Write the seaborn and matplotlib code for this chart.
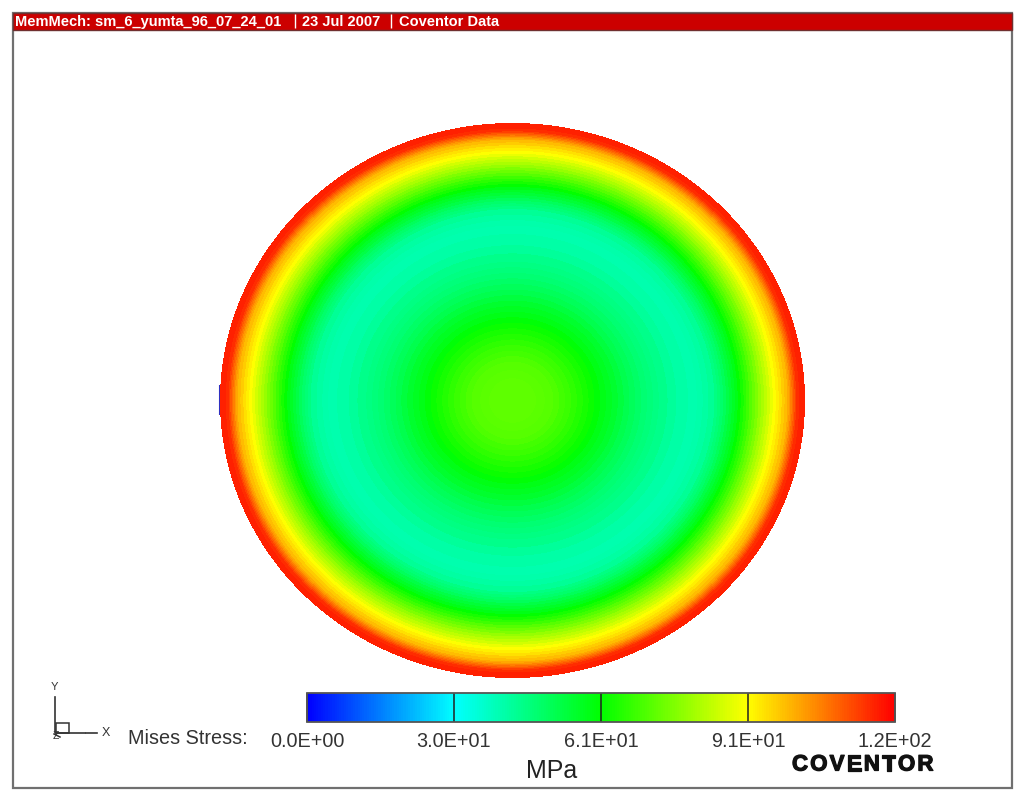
import numpy as np
import matplotlib
matplotlib.use("Agg")
import matplotlib.pyplot as plt
import matplotlib.patheffects as pe
from matplotlib.colors import LinearSegmentedColormap
from matplotlib.patches import Rectangle
import seaborn as sns

# radial stress profile (fraction of radius -> MPa)
ring_radius = [0.00, 0.04, 0.08, 0.11, 0.14, 0.16, 0.18, 0.20, 0.22, 0.24, 0.26, 0.28,
               0.30, 0.32, 0.34, 0.36, 0.38, 0.40, 0.42, 0.44, 0.46, 0.48, 0.50, 0.53,
               0.56, 0.60, 0.63, 0.65, 0.67, 0.69, 0.70, 0.71, 0.72, 0.73, 0.74, 0.75,
               0.76, 0.77, 0.78, 0.79, 0.80, 0.81, 0.82, 0.83, 0.84, 0.85, 0.86, 0.87,
               0.88, 0.89, 0.90, 0.91, 0.92, 0.93, 0.94, 0.945, 0.95, 0.955, 0.96, 0.965, 0.97, 0.98, 0.99]
ring_stress = [71.5, 71.5, 71.0, 70.5, 69.5, 68.5, 67.5, 66.0, 64.5, 63.0, 61.5, 60.0,
               58.0, 56.5, 55.0, 53.0, 51.5, 50.0, 48.5, 47.0, 46.0, 45.0, 44.0, 42.5,
               41.0, 40.0, 40.5, 41.5, 43.0, 45.0, 46.5, 48.0, 50.0, 52.0, 54.0, 56.0,
               58.0, 60.5, 63.0, 65.5, 68.0, 70.5, 73.0, 75.5, 78.0, 80.5, 83.0, 85.5,
               88.0, 90.5, 92.5, 94.5, 96.5, 98.5, 101.0, 103.0, 105.5, 108.0, 110.5, 113.0, 115.5, 117.0, 117.0]

stress_ticks = [0.0, 30.25, 60.5, 90.75, 121.0]
tick_labels = ["0.0E+00", "3.0E+01", "6.1E+01", "9.1E+01", "1.2E+02"]
header_parts = ["MemMech: sm_6_yumta_96_07_24_01", "23 Jul 2007", "Coventor Data"]

W, H = 1024, 801
plt.rcParams["font.family"] = ["Liberation Sans", "DejaVu Sans"]
rainbow = LinearSegmentedColormap.from_list(
    "stress", ["#0000ff", "#00ffff", "#00ff00", "#ffff00", "#ff0000"], N=256
)


def px_axes(fig, left, top, right, bottom, **kw):
    return fig.add_axes([left / W, 1 - bottom / H, (right - left) / W, (bottom - top) / H], **kw)


fig = plt.figure(figsize=(W / 100, H / 100), dpi=100, facecolor="white")

# overlay in pixel coordinates for frame, header and triad
bg = fig.add_axes([0, 0, 1, 1])
bg.set_xlim(0, W)
bg.set_ylim(H, 0)
bg.axis("off")
bg.add_patch(Rectangle((12.5, 12.5), 999, 775, fc="white", ec="#707070", lw=1.6))
bg.add_patch(Rectangle((12.5, 12.5), 999, 17.5, fc="#cc0000", ec="#703030", lw=1.0))
for x, part in zip([15, 302, 399], header_parts):
    bg.text(x, 22, part, color="white", fontsize=10.5, fontweight="bold", va="center", ha="left")
bg.vlines([294.5, 390.5], 14, 28, color="white", lw=1)

# disc: each pixel takes the stress of the ring it falls in
cx, cy, rx, ry = 292.5, 277.5, 292.5, 277.5
yy, xx = np.mgrid[0:555, 0:585]
rr = np.hypot((xx + 0.5 - cx) / rx, (yy + 0.5 - cy) / ry)
idx = np.searchsorted(ring_radius, rr, side="right") - 1
field = np.array(ring_stress)[idx]

ax = px_axes(fig, 220, 123, 805, 678)
cax = px_axes(fig, 307, 693, 895, 722)
sns.heatmap(
    field, mask=rr > 1.0, cmap=rainbow, vmin=0, vmax=121, ax=ax, cbar_ax=cax,
    cbar_kws={"orientation": "horizontal", "ticks": stress_ticks},
    xticklabels=False, yticklabels=False,
)
ax.axis("off")

cax.set_xticklabels(tick_labels)
cax.tick_params(axis="x", direction="in", length=21, width=1.1, color="#222222",
                labelsize=14.3, labelcolor="#333333", pad=7)
cbar = ax.collections[0].colorbar
cbar.outline.set_visible(True)
cbar.outline.set_edgecolor("#555555")
cbar.outline.set_linewidth(1.3)

# stray mesh specks on the disc rim
bg.vlines(219.5, 385, 415, color="#3030c0", lw=1.5)
bg.plot([794], [405], marker="s", ms=1.5, color="#555555")

# coordinate triad
bg.plot([55, 55, 85], [697, 733, 733], color="#333333", lw=1.2)
bg.plot([86, 97], [732.5, 732.5], color="#333333", lw=1.2)
bg.add_patch(Rectangle((56, 723), 13, 10, fc="none", ec="#333333", lw=1.1))
bg.plot([54, 60], [734, 737], color="#333333", lw=1.1)
bg.text(54, 687, "Y", fontsize=8, color="#333333", ha="center", va="center")
bg.text(105.5, 733, "X", fontsize=9, color="#333333", ha="center", va="center")
bg.text(56, 736, "Z", fontsize=7.5, color="#333333", ha="center", va="center")

bg.text(128, 739, "Mises Stress:", fontsize=14.3, color="#333333", va="center", ha="left")
bg.text(552, 771, "MPa", fontsize=18, color="#222222", va="center", ha="center")

# logo: bold letters spaced out by hand
renderer = fig.canvas.get_renderer()
x = 792
for ch in "COVENTOR":
    letter = bg.text(x, 765, ch, fontsize=16, fontweight="bold", color="#111111", va="center", ha="left",
                     path_effects=[pe.withStroke(linewidth=0.9, foreground="#111111")])
    x += letter.get_window_extent(renderer).width + 2.2

fig.savefig("out.png", dpi=100)
